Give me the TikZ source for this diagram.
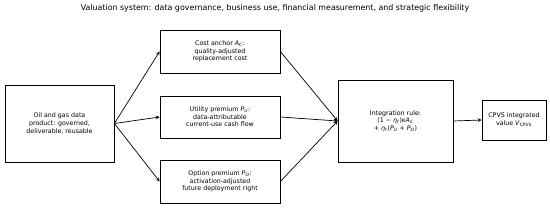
\documentclass[tikz,border=0pt]{standalone}
\usepackage{fontspec}
\setmainfont{DejaVu Sans}
\newcommand{\vsym}[2]{\textit{#1}\textsubscript{\textit{#2}}}
\begin{document}
\begin{tikzpicture}[x=1pt, y=-1pt, >=stealth,
  box/.style={draw, line width=0.8pt, align=center, inner sep=1pt,
    font=\fontsize{6.3}{7.6}\selectfont},
  flow/.style={->, line width=0.7pt}]

\useasboundingbox (0,0) rectangle (550,208);

% Titolo
\node (title) at (275,8) {\fontsize{7.9}{9}\selectfont Valuation system: data governance, business use, financial measurement, and strategic flexibility};

% Prodotto dati
\node[box, minimum width=109pt, minimum height=77pt] (data) at (59.5,123.5)
  {Oil and gas data\\product: governed,\\deliverable, reusable};

% Tre componenti
\node[box, minimum width=120pt, minimum height=43pt] (cost) at (220,51.5)
  {Cost anchor \vsym{A}{C}:\\quality-adjusted\\replacement cost};
\node[box, minimum width=120pt, minimum height=42pt] (util) at (220,117)
  {Utility premium \vsym{P}{U}:\\data-attributable\\current-use cash flow};
\node[box, minimum width=120pt, minimum height=43pt] (opt) at (220,181.5)
  {Option premium \vsym{P}{O}:\\activation-adjusted\\future deployment right};

% Regola di integrazione e valore finale
\node[box, minimum width=115pt, minimum height=82pt] (integ) at (395.5,121)
  {Integration rule:\\(1 − \vsym{η}{t})\textit{κ}\vsym{A}{C}\\+ \vsym{η}{t}(\vsym{P}{U} + \vsym{P}{O})};
\node[box, minimum width=64pt, minimum height=40pt] (cpvs) at (514,120)
  {CPVS integrated\\value \textit{V}\textsubscript{CPVS}};

% Archi
\draw[flow] (data.east) -- (cost.west);
\draw[flow] (data.east) -- (util.west);
\draw[flow] (data.east) -- (opt.west);

\draw[flow] (cost.east) -- (integ.west);
\draw[flow] (util.east) -- (integ.west);
\draw[flow] (opt.east) -- (integ.west);

\draw[flow] (integ.east) -- (cpvs.west);

\end{tikzpicture}
\end{document}
